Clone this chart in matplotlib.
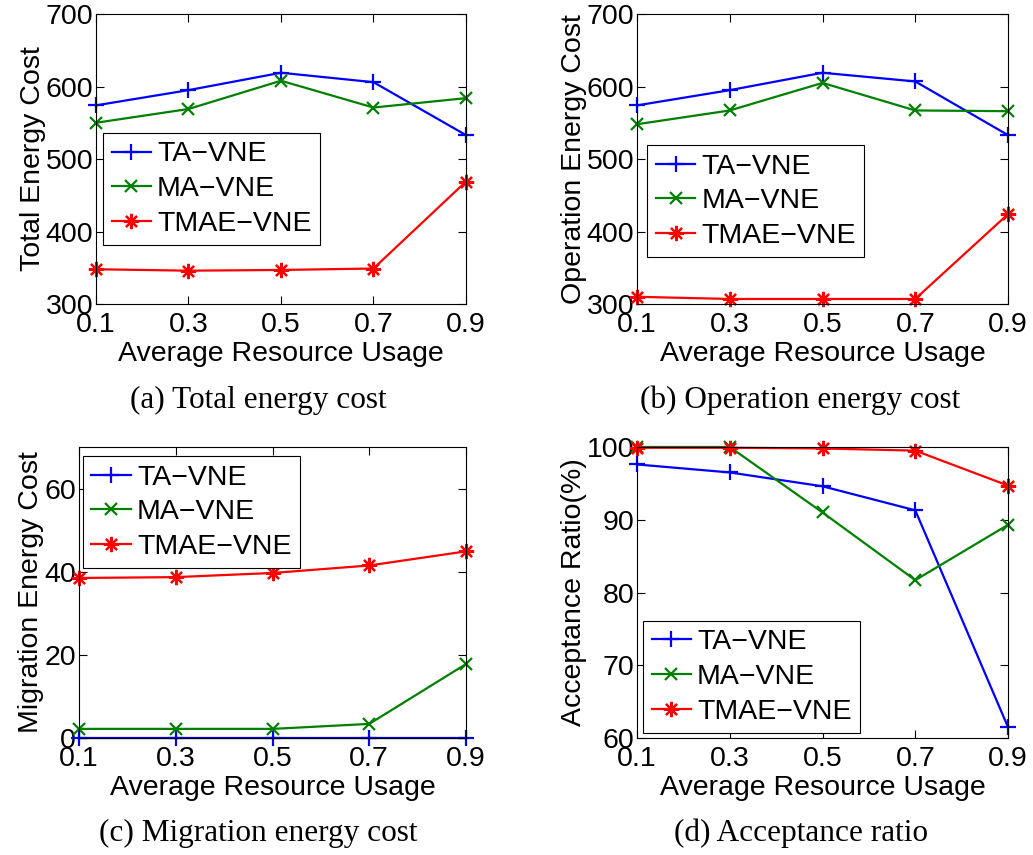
import numpy as np
import matplotlib
matplotlib.use("Agg")
import matplotlib.pyplot as plt

plt.rcParams['font.family'] = ['Liberation Sans', 'DejaVu Sans']

usage = [0.1, 0.3, 0.5, 0.7, 0.9]
series_names = ["TA\u2212VNE", "MA\u2212VNE", "TMAE\u2212VNE"]

# (a) total energy cost
total_ta = [574, 595, 619, 606, 533]
total_ma = [550, 569, 608, 571, 584]
total_tmae = [348, 346, 347, 349, 469]

# (b) operation energy cost
oper_ta = [574, 595, 619, 607, 533]
oper_ma = [548, 567, 605, 567, 566]
oper_tmae = [310, 307, 307, 307, 424]

# (c) migration energy cost
migr_ta = [0, 0, 0, 0, 0]
migr_ma = [2.2, 2.2, 2.2, 3.4, 17.8]
migr_tmae = [38.5, 38.7, 39.7, 41.5, 44.9]

# (d) acceptance ratio (%)
acc_ta = [97.6, 96.5, 94.6, 91.3, 61.5]
acc_ma = [100, 100, 91.0, 81.7, 89.3]
acc_tmae = [99.9, 99.9, 99.8, 99.5, 94.7]

colors = ["#0000ff", "#008000", "#ff0000"]
# matlab-like markers: plus, cross, 8-spoke asterisk
markers = ["+", "x", (8, 2, 0)]
msizes = [12, 8, 11]
FS = 20.5

fig = plt.figure(figsize=(10.33, 8.55), dpi=100)

panels = [
    # rect, data, ylim, yticks, ylabel, caption, caption pos, legend loc, legend anchor
    ([0.0929, 0.6444, 0.3582, 0.3392], (total_ta, total_ma, total_tmae),
     (300, 700), [300, 400, 500, 600, 700], "Total Energy Cost",
     "(a) Total energy cost", (0.250, 0.532), "upper left", (0.019, 0.59)),
    ([0.6167, 0.6444, 0.3591, 0.3392], (oper_ta, oper_ma, oper_tmae),
     (300, 700), [300, 400, 500, 600, 700], "Operation Energy Cost",
     "(b) Operation energy cost", (0.775, 0.532), "upper left", (0.027, 0.548)),
    ([0.0765, 0.1368, 0.3746, 0.3404], (migr_ta, migr_ma, migr_tmae),
     (0, 70), [0, 20, 40, 60], "Migration Energy Cost",
     "(c) Migration energy cost", (0.250, 0.025), "upper left", (0.010, 0.969)),
    ([0.6167, 0.1368, 0.3591, 0.3404], (acc_ta, acc_ma, acc_tmae),
     (60, 100), [60, 70, 80, 90, 100], "Acceptance Ratio(%)",
     "(d) Acceptance ratio", (0.775, 0.025), "lower left", (0.016, 0.017)),
]

for rect, data, ylim, yticks, ylabel, caption, cpos, lloc, lanchor in panels:
    ax = fig.add_axes(rect)
    for vals, name, c, m, ms in zip(data, series_names, colors, markers, msizes):
        ax.plot(usage, vals, color=c, marker=m, markersize=ms, markeredgewidth=1.6,
                linewidth=1.6, label=name, clip_on=False)
    ax.set_xlim(0.1, 0.9)
    ax.set_ylim(*ylim)
    ax.set_xticks(usage)
    ax.set_xticklabels([str(u) for u in usage])
    ax.set_yticks(yticks)
    ax.tick_params(direction="in", top=True, right=True, length=6, width=0.8,
                   labelsize=FS)
    ax.tick_params(axis="x", pad=6)
    ax.tick_params(axis="y", pad=2)
    for s in ax.spines.values():
        s.set_linewidth(0.8)
    ax.set_xlabel("Average Resource Usage", fontsize=FS, labelpad=2)
    ax.set_ylabel(ylabel, fontsize=FS, labelpad=0)
    leg = ax.legend(loc=lloc, bbox_to_anchor=lanchor, borderaxespad=0, fontsize=FS,
                    fancybox=False, edgecolor="black", framealpha=1,
                    handlelength=1.4, handletextpad=0.2, labelspacing=0.3,
                    borderpad=0.3)
    leg.get_frame().set_linewidth(0.8)
    fig.text(cpos[0], cpos[1], caption, ha="center", va="center",
             fontsize=22.5, family="Liberation Serif")

fig.savefig("out.png", dpi=100)
